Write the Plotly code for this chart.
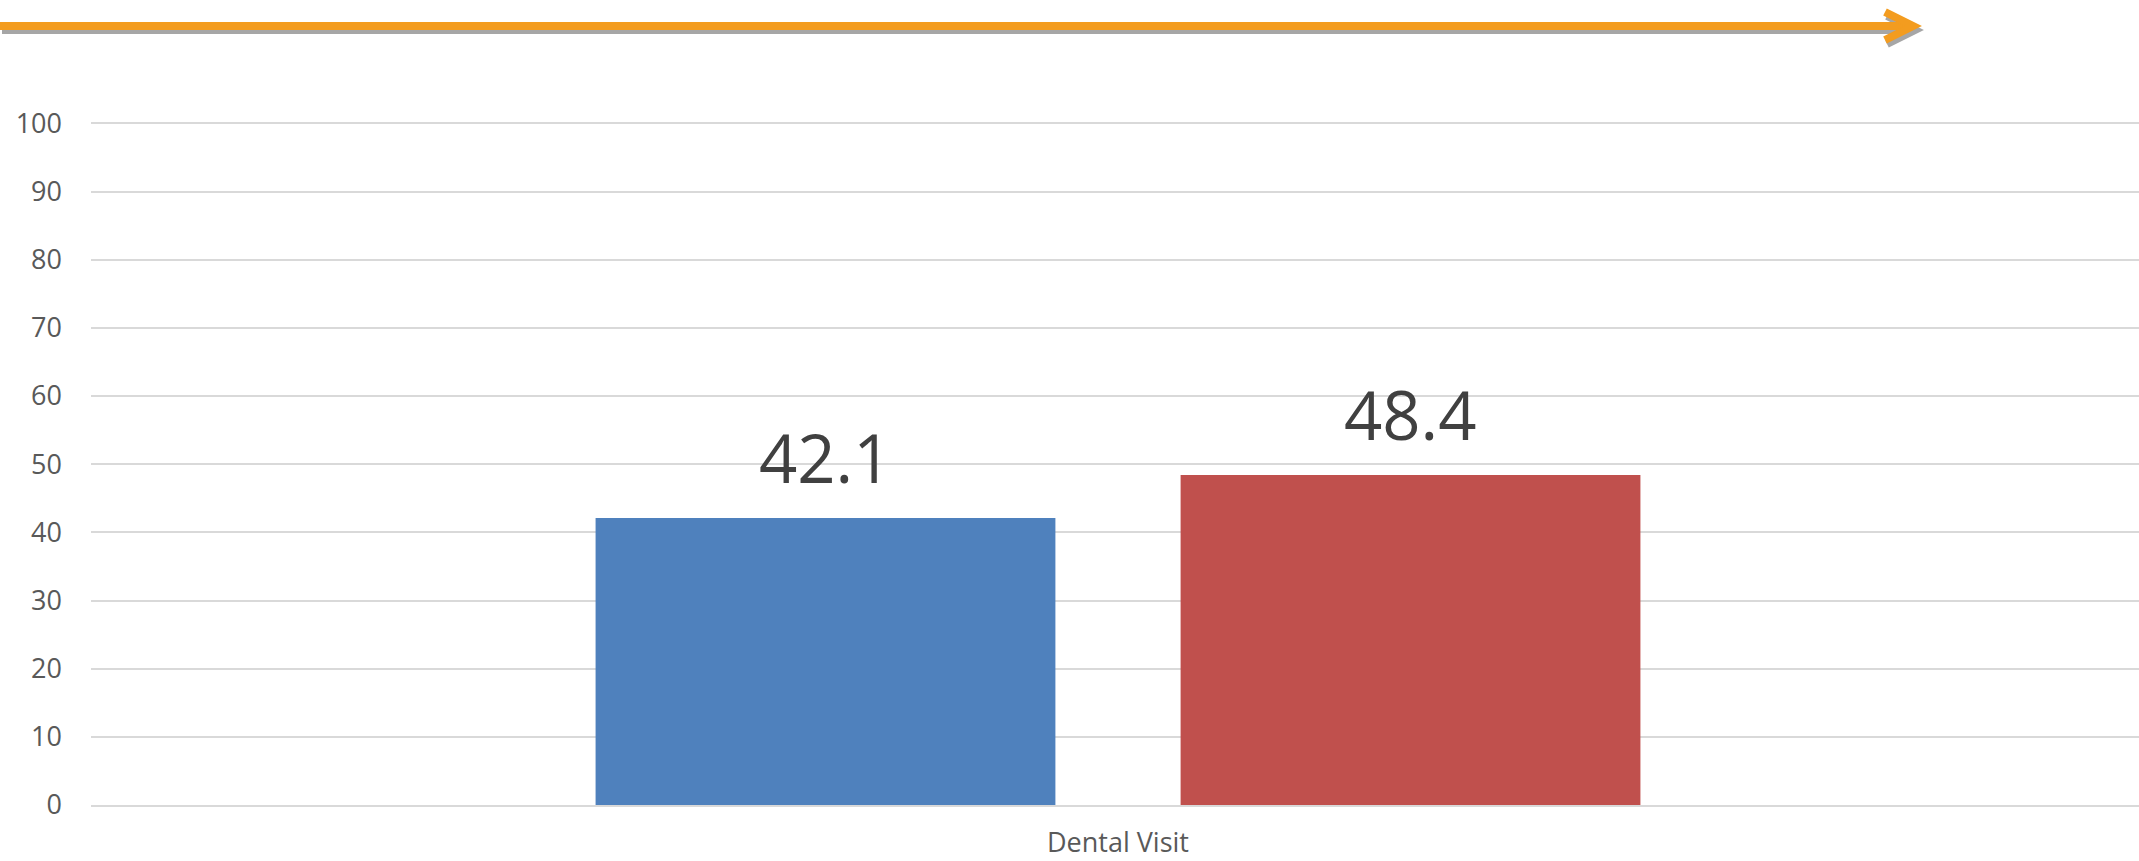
import plotly.graph_objects as go

categories = ["Dental Visit"]
series_a = [42.1]
series_b = [48.4]
y_ticks = [0, 10, 20, 30, 40, 50, 60, 70, 80, 90, 100]

W, H = 2139, 861
ML, MR, MT, MB = 91, 0, 122, 56
PW, PH = W - ML - MR, H - MT - MB
BARGAP, GROUPGAP = 0.4287, 0.214
XSHIFT = 3 / PW  # nudge the category centre a few pixels right


def px(x):
    # pixel -> paper x
    return (x - ML) / PW


def py(y):
    # pixel -> paper y
    return 1 - (y - MT) / PH


fig = go.Figure()

fig.add_trace(go.Bar(
    x=categories, y=series_a, name="A",
    marker=dict(color="#4F81BD", line=dict(width=0)),
))
fig.add_trace(go.Bar(
    x=categories, y=series_b, name="B",
    marker=dict(color="#C0504D", line=dict(width=0)),
))

# value labels above each bar
slot = PW * (1 - BARGAP) / 2
annotations = []
for vals, shift in [(series_a, -slot / 2), (series_b, slot / 2)]:
    for c, v in zip(categories, vals):
        annotations.append(dict(x=c, y=v, text=f"{v:.1f}", showarrow=False,
                                xshift=shift, yshift=13, yanchor="bottom",
                                font=dict(size=67, color="#404040")))

# decorative arrow above the chart (shadow first, then orange)
shapes = []
for dx, dy, col in [(2, 4, "#A6A6A6"), (0, 0, "#F39C1F")]:
    shapes.append(dict(type="line", xref="paper", yref="paper",
                       x0=px(0 + dx), y0=py(26 + dy), x1=px(1910 + dx), y1=py(26 + dy),
                       line=dict(color=col, width=8)))
    shapes.append(dict(type="path", xref="paper", yref="paper",
                       path=f"M {px(1885 + dx)},{py(12 + dy)} L {px(1913 + dx)},{py(26 + dy)} L {px(1885 + dx)},{py(40 + dy)}",
                       line=dict(color=col, width=8)))

fig.update_layout(
    width=W, height=H,
    margin=dict(l=ML, r=MR, t=MT, b=MB, autoexpand=False),
    paper_bgcolor="white", plot_bgcolor="white",
    barmode="group", bargap=BARGAP, bargroupgap=GROUPGAP,
    showlegend=False,
    font=dict(family="Open Sans", color="#595959"),
    shapes=shapes,
    annotations=annotations,
    xaxis=dict(range=[-0.5 - XSHIFT, 0.5 - XSHIFT], automargin=False,
               showgrid=False, showline=True, linecolor="#D9D9D9", linewidth=2,
               tickfont=dict(size=27, color="#595959"), ticks="", ticklabelstandoff=13),
    yaxis=dict(range=[0, 100.2], tickvals=y_ticks, showgrid=True, gridcolor="#D9D9D9",
               gridwidth=2, zeroline=False, showline=False, automargin=False,
               tickfont=dict(size=27, color="#595959"), ticks="", ticklabelstandoff=28),
)

fig.write_html("out.html", config={"displayModeBar": False},
               post_script="document.body.style.margin='0';document.body.style.overflow='hidden';")
